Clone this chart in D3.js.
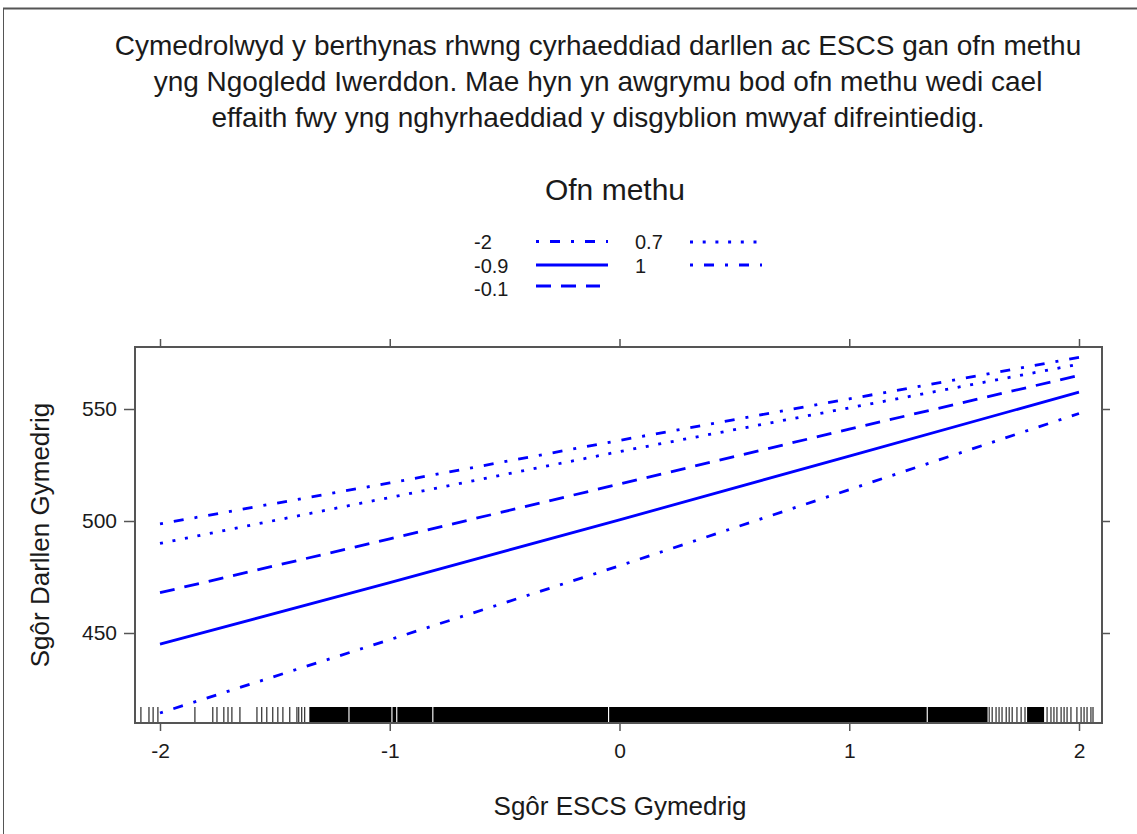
<!DOCTYPE html>
<html>
<head>
<meta charset="utf-8">
<script src="https://cdn.jsdelivr.net/npm/d3@7"></script>
<style>
  html, body { margin: 0; padding: 0; background: #fff; }
  svg { display: block; }
  text { font-family: "Liberation Sans", Arial, sans-serif; }
</style>
</head>
<body>
<svg id="chart" width="1137" height="834"></svg>
<script>
// ---------------- data ----------------
const titleLines = [
  "Cymedrolwyd y berthynas rhwng cyrhaeddiad darllen ac ESCS gan ofn methu",
  "yng Ngogledd Iwerddon. Mae hyn yn awgrymu bod ofn methu wedi cael",
  "effaith fwy yng nghyrhaeddiad y disgyblion mwyaf difreintiedig."
];
const legendTitle = "Ofn methu";
const xLabel = "Sgôr ESCS Gymedrig";
const yLabel = "Sgôr Darllen Gymedrig";

const escsPoints = [-2, -1, 0, 1, 2];
const seriesNames = ["-2", "-0.9", "-0.1", "0.7", "1"];
const fearM2   = [414.3, 447.0, 480.0, 514.0, 548.0];
const fearM09  = [445.0, 472.5, 500.5, 529.0, 557.5];
const fearM01  = [468.0, 492.0, 516.5, 541.0, 565.0];
const fear07   = [490.0, 510.5, 531.0, 550.5, 570.0];
const fear1    = [498.7, 517.0, 536.0, 554.5, 573.0];

const xTicks = [-2, -1, 0, 1, 2];
const yTicks = [450, 500, 550];

// rug: isolated observations and densely packed ranges of ESCS
const rugSingles = [-2.083, -2.048, -2.030, -2.009, -1.848, -1.770, -1.752, -1.722, -1.704,
  -1.687, -1.652, -1.578, -1.557, -1.535, -1.509, -1.487, -1.465, -1.435, -1.404, -1.396,
  -1.383, -1.370, 1.609, 1.622, 1.639, 1.652, 1.665, 1.683, 1.696, 1.709, 1.730, 1.748, 1.765,
  1.861, 1.878, 1.891, 1.904, 1.922, 1.935, 1.948, 1.965, 1.991, 2.009, 2.022, 2.035, 2.052, 2.061];
const rugDense = [[-1.350, -1.180], [-1.175, -0.993], [-0.988, -0.972], [-0.967, -0.815],
  [-0.810, -0.050], [-0.045, 1.337], [1.342, 1.602], [1.774, 1.848]];

// ---------------- layout ----------------
const svg = d3.select("#chart");
const box = { left: 135, right: 1102, top: 347, bottom: 723 };
const x = d3.scaleLinear().domain([-2, 2]).range([160, 1079]);
const y = d3.scaleLinear().domain([450, 550]).range([633, 409]);

const series = [
  { name: seriesNames[0], values: fearM2,  dash: "3,11,10,11" },
  { name: seriesNames[1], values: fearM09, dash: null },
  { name: seriesNames[2], values: fearM01, dash: "15,10" },
  { name: seriesNames[3], values: fear07,  dash: "3,9.7" },
  { name: seriesNames[4], values: fear1,   dash: "3,11,10,11" }
];
const blue = "#0000ff";
const textColor = "#1a1a1a";

// outer frame (top and left)
svg.append("line").attr("x1", 3).attr("x2", 1137).attr("y1", 8.5).attr("y2", 8.5)
  .attr("stroke", "#555").attr("stroke-width", 2);
svg.append("line").attr("x1", 3.5).attr("x2", 3.5).attr("y1", 8).attr("y2", 834)
  .attr("stroke", "#555").attr("stroke-width", 1);

// title
svg.append("g").selectAll("text").data(titleLines).join("text")
  .attr("x", 598).attr("y", (d, i) => 55 + i * 36)
  .attr("text-anchor", "middle").attr("font-size", 28).attr("fill", textColor)
  .text(d => d);

// legend
svg.append("text").attr("x", 615).attr("y", 200).attr("text-anchor", "middle")
  .attr("font-size", 30).attr("fill", textColor).text(legendTitle);
const legendPos = [
  { tx: 474, ty: 249, lx1: 536, lx2: 608, ly: 241.5 },
  { tx: 474, ty: 273, lx1: 536, lx2: 608, ly: 265 },
  { tx: 474, ty: 296, lx1: 536, lx2: 600, ly: 286 },
  { tx: 635, ty: 249, lx1: 690, lx2: 762, ly: 242 },
  { tx: 635, ty: 273, lx1: 690, lx2: 762, ly: 265 }
];
const lg = svg.append("g");
series.forEach((s, i) => {
  const p = legendPos[i];
  lg.append("text").attr("x", p.tx).attr("y", p.ty).attr("font-size", 20)
    .attr("fill", textColor).text(s.name);
  lg.append("line").attr("x1", p.lx1).attr("x2", p.lx2).attr("y1", p.ly).attr("y2", p.ly)
    .attr("stroke", blue).attr("stroke-width", 2.8)
    .attr("stroke-dasharray", s.dash);
});

// rug
const rugTop = 707, rugBottom = 722;
const rug = svg.append("g");
rug.selectAll("line").data(rugSingles).join("line")
  .attr("x1", d => x(d)).attr("x2", d => x(d))
  .attr("y1", rugTop).attr("y2", rugBottom)
  .attr("stroke", "#000").attr("stroke-width", 1);
rug.selectAll("rect").data(rugDense).join("rect")
  .attr("x", d => x(d[0])).attr("width", d => x(d[1]) - x(d[0]))
  .attr("y", rugTop).attr("height", rugBottom - rugTop).attr("fill", "#000");

// lines
const lineGen = d3.line().x((d, i) => x(escsPoints[i])).y(d => y(d));
svg.append("g").selectAll("path").data(series).join("path")
  .attr("d", d => lineGen(d.values))
  .attr("fill", "none").attr("stroke", blue).attr("stroke-width", 2.8)
  .attr("stroke-dasharray", d => d.dash);

// axes (ticks on all four sides)
const axisColor = "#555";
function styleAxis(g) {
  g.select(".domain").remove();
  g.selectAll(".tick line").attr("stroke", axisColor).attr("stroke-width", 1.5);
  g.selectAll(".tick text").attr("fill", textColor)
    .attr("font-family", "Liberation Sans, Arial, sans-serif");
}
svg.append("g").attr("transform", `translate(0,${box.bottom})`)
  .call(d3.axisBottom(x).tickValues(xTicks).tickFormat(d3.format("d")).tickSize(8).tickPadding(12))
  .call(styleAxis)
  .call(g => g.selectAll(".tick text").attr("font-size", 21).text(d => String(d).replace("−", "-")));
svg.append("g").attr("transform", `translate(0,${box.top})`)
  .call(d3.axisTop(x).tickValues(xTicks).tickSize(8).tickFormat(""))
  .call(styleAxis);
svg.append("g").attr("transform", `translate(${box.left},0)`)
  .call(d3.axisLeft(y).tickValues(yTicks).tickFormat(d3.format("d")).tickSize(11).tickPadding(7))
  .call(styleAxis)
  .call(g => g.selectAll(".tick text").attr("font-size", 21));
svg.append("g").attr("transform", `translate(${box.right},0)`)
  .call(d3.axisRight(y).tickValues(yTicks).tickSize(8).tickFormat(""))
  .call(styleAxis);

// panel box
svg.append("rect").attr("x", box.left).attr("y", box.top)
  .attr("width", box.right - box.left).attr("height", box.bottom - box.top)
  .attr("fill", "none").attr("stroke", axisColor).attr("stroke-width", 2);

// axis labels
svg.append("text").attr("x", 620).attr("y", 815).attr("text-anchor", "middle")
  .attr("font-size", 26).attr("fill", textColor).text(xLabel);
svg.append("text").attr("transform", "translate(49,535) rotate(-90)")
  .attr("text-anchor", "middle").attr("font-size", 26).attr("fill", textColor).text(yLabel);
</script>
</body>
</html>
